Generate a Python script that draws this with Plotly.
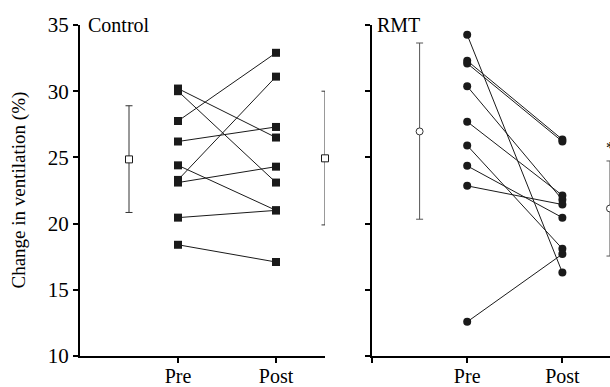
import plotly.graph_objects as go

# ---- data ----
categories = ["Pre", "Post"]
cat_pos = [1, 2]
mean_pos = [0.5, 2.5]

control_pre = [30.2, 30.0, 27.75, 26.2, 24.4, 23.3, 23.1, 20.45, 18.4]
control_post = [26.5, 23.1, 32.9, 27.3, 21.0, 31.1, 24.3, 21.0, 17.1]
control_mean = [24.85, 24.93]
control_upper = [28.9, 30.0]
control_lower = [20.84, 19.9]

rmt_pre = [34.26, 32.3, 32.1, 30.37, 27.7, 25.9, 24.36, 22.85, 12.58]
rmt_post = [16.3, 26.35, 26.2, 21.8, 22.13, 18.1, 20.45, 21.44, 17.7]
rmt_mean = [26.96, 21.14]
rmt_upper = [33.64, 24.73]
rmt_lower = [20.33, 17.55]
rmt_mark_y = [25.6]
rmt_mark_text = ["*"]

y_ticks = [10, 15, 20, 25, 30, 35]
panel_titles = ["Control", "RMT"]
y_title = "Change in ventilation (%)"

W, H = 610, 387
ML, MR, MT, MB = 80, 0, 25, 25
plot_w = W - ML - MR

FONT = "Liberation Serif"


def paired_xy(pre, post):
    xs, ys = [], []
    for a, b in zip(pre, post):
        xs += [cat_pos[0], cat_pos[1], None]
        ys += [a, b, None]
    return xs, ys


fig = go.Figure()

# Control panel
cx, cy = paired_xy(control_pre, control_post)
fig.add_trace(go.Scatter(x=cx, y=cy, mode="lines+markers", xaxis="x", yaxis="y",
                         line=dict(color="#1a1a1a", width=1),
                         marker=dict(symbol="square", size=8, color="#1a1a1a"),
                         showlegend=False, cliponaxis=False))
fig.add_trace(go.Scatter(x=mean_pos, y=control_mean, mode="markers", xaxis="x", yaxis="y",
                         marker=dict(symbol="square", size=7, color="white",
                                     line=dict(color="#1a1a1a", width=1)),
                         error_y=dict(type="data", symmetric=False,
                                      array=[u - m for u, m in zip(control_upper, control_mean)],
                                      arrayminus=[m - l for m, l in zip(control_mean, control_lower)],
                                      color="#333333", thickness=1, width=3.5),
                         showlegend=False, cliponaxis=False))

# RMT panel
rx, ry = paired_xy(rmt_pre, rmt_post)
fig.add_trace(go.Scatter(x=rx, y=ry, mode="lines+markers", xaxis="x2", yaxis="y2",
                         line=dict(color="#1a1a1a", width=1),
                         marker=dict(symbol="circle", size=8, color="#1a1a1a"),
                         showlegend=False, cliponaxis=False))
fig.add_trace(go.Scatter(x=mean_pos, y=rmt_mean, mode="markers", xaxis="x2", yaxis="y2",
                         marker=dict(symbol="circle", size=7, color="white",
                                     line=dict(color="#333333", width=1)),
                         error_y=dict(type="data", symmetric=False,
                                      array=[u - m for u, m in zip(rmt_upper, rmt_mean)],
                                      arrayminus=[m - l for m, l in zip(rmt_mean, rmt_lower)],
                                      color="#555555", thickness=1, width=3.5),
                         showlegend=False, cliponaxis=False))
fig.add_trace(go.Scatter(x=[mean_pos[1]], y=rmt_mark_y, mode="text", text=rmt_mark_text,
                         xaxis="x2", yaxis="y2", textfont=dict(size=16, color="black"),
                         showlegend=False, cliponaxis=False))

px_per_unit2 = 95.19
d1_end = 245 / plot_w
d2_start = (372 - ML) / plot_w
x2_max = (W - 372) / px_per_unit2

axis_common = dict(showline=True, linecolor="black", linewidth=2, ticks="outside",
                   ticklen=5, tickwidth=1.5, tickcolor="black", showgrid=False,
                   zeroline=False)
xfont = dict(family=FONT, size=20, color="black")
yfont = dict(family=FONT, size=21, color="black")

fig.update_layout(
    width=W, height=H,
    margin=dict(l=ML, r=MR, t=MT, b=MB, pad=0),
    paper_bgcolor="white", plot_bgcolor="white",
    font=dict(family=FONT, color="black", size=20),
    xaxis=dict(domain=[0, d1_end], range=[0, 2.5], tickvals=cat_pos, ticktext=categories,
               anchor="y", tickfont=xfont, ticklabelstandoff=-4, **axis_common),
    yaxis=dict(domain=[0, 1], range=[10, 35], tickvals=y_ticks, anchor="x",
               tickfont=yfont, **axis_common),
    xaxis2=dict(domain=[d2_start, 1], range=[0, x2_max], tickvals=[0] + cat_pos,
                ticktext=[""] + categories, anchor="y2", tickfont=xfont,
                ticklabelstandoff=-4, **axis_common),
    yaxis2=dict(domain=[0, 1], range=[10, 35], tickvals=y_ticks, showticklabels=False,
                anchor="x2", **axis_common),
    annotations=[
        dict(text=panel_titles[0], x=(86 - ML) / plot_w, y=1, xref="paper", yref="paper",
             xanchor="left", yanchor="middle", showarrow=False,
             font=dict(family=FONT, size=20, color="black")),
        dict(text=panel_titles[1], x=(375 - ML) / plot_w, y=1, xref="paper", yref="paper",
             xanchor="left", yanchor="middle", showarrow=False,
             font=dict(family=FONT, size=20, color="black")),
        dict(text=y_title, x=(18 - ML) / plot_w, y=0.5, xref="paper", yref="paper",
             xanchor="center", yanchor="middle", textangle=-90, showarrow=False,
             font=dict(family=FONT, size=19, color="black")),
    ],
)

fig.write_html("out.html", config={"displayModeBar": False},
               post_script="document.body.style.margin='0';")
